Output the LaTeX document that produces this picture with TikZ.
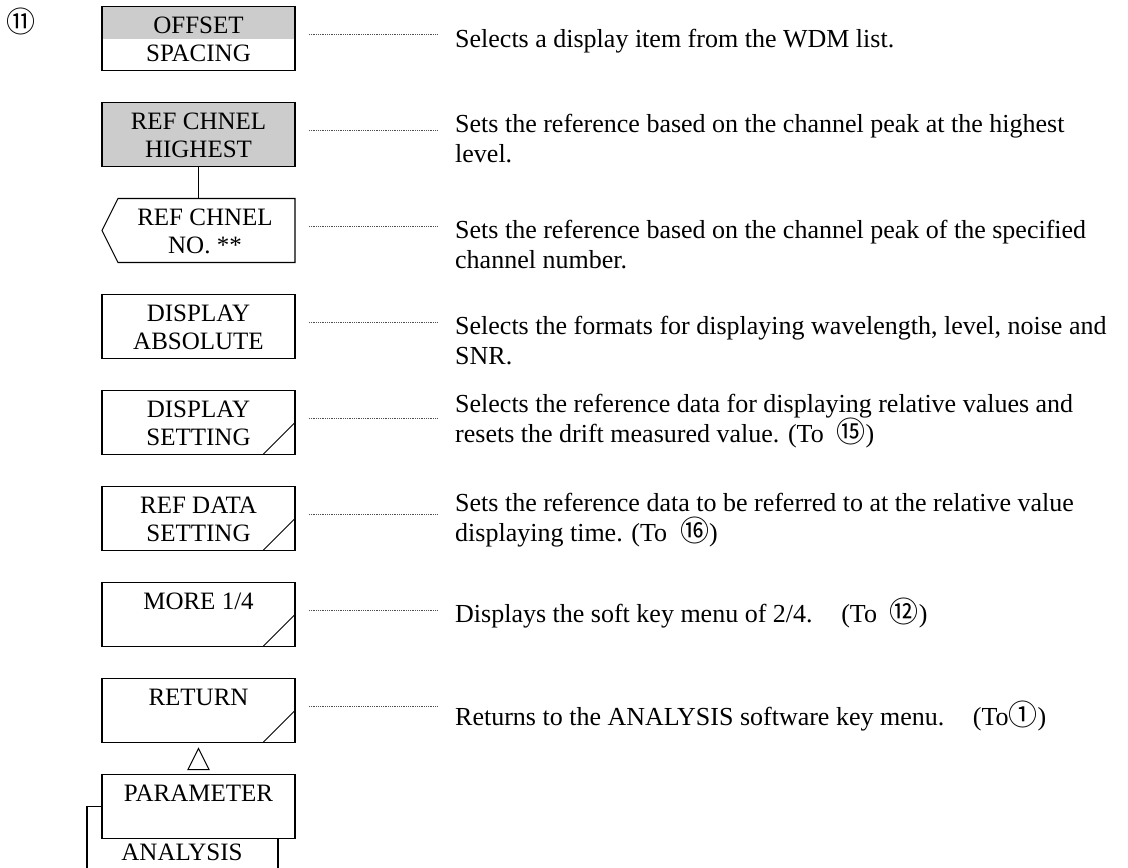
\documentclass[tikz,border=0pt]{standalone}
\usepackage{fontspec}
\setmainfont{Liberation Serif}
\newfontfamily\circfont{Noto Sans CJK JP}
\usetikzlibrary{calc}
\definecolor{keygray}{RGB}{204,204,204}
\definecolor{dotgray}{RGB}{80,80,80}
\newcommand{\circnum}[1]{\smash{\raisebox{-0.5pt}{\circfont\fontsize{29}{29}\selectfont #1}}}
\begin{document}
\begin{tikzpicture}[x=1pt,y=-1pt,
  keybox/.style={draw=black, line width=1.1pt, minimum width=193pt, minimum height=64pt, inner sep=0pt, outer sep=0pt},
  klabel/.style={font=\fontsize{25}{27.5}\selectfont, anchor=base, inner sep=0pt},
  desc/.style={font=\fontsize{26}{30}\selectfont, anchor=base west, inner sep=0pt, align=left},
  leader/.style={draw=dotgray, line width=0.8pt, dash pattern=on 0.9pt off 0.9pt},
  slashln/.style={line width=1pt},
  edge/.style={line width=1.1pt}]
\useasboundingbox (0,0) rectangle (1128,868);

% circled number
\node[font=\fontsize{29}{29}\selectfont\circfont, inner sep=0pt] (num) at (21,21) {⑪};

% row 0
\fill[keygray] (102,7) rectangle (295,39);
\node[keybox] (k0) at (198.5,38.5) {};
\node[klabel] (t0a) at (198.5,33.5) {OFFSET};
\node[klabel] (t0b) at (198.5,61) {SPACING};

% row 1
\node[keybox, fill=keygray] (k1) at (198.5,134.5) {};
\node[klabel] (t1a) at (198.5,129.5) {REF CHNEL};
\node[klabel] (t1b) at (198.5,157) {HIGHEST};

% row 2 (pointed)
\node[minimum width=177pt, minimum height=64pt, inner sep=0pt, outer sep=0pt] (k2) at (206.5,230.5) {};
\draw[edge] (k2.north west) -- (k2.north east) -- (k2.south east) -- (k2.south west) -- ($(k2.west)+(-16,0)$) -- cycle;
\node[klabel] (t2a) at (205,225.5) {REF CHNEL};
\node[klabel] (t2b) at (205,253) {NO. **};
\draw[edge] (k1.south) -- (k1.south |- k2.north);

% row 3
\node[keybox] (k3) at (198.5,326.5) {};
\node[klabel] (t3a) at (198.5,321.5) {DISPLAY};
\node[klabel] (t3b) at (198.5,349) {ABSOLUTE};

% row 4
\node[keybox] (k4) at (198.5,422.5) {};
\node[klabel] (t4a) at (198.5,417.5) {DISPLAY};
\node[klabel] (t4b) at (198.5,445) {SETTING};
\draw[slashln] ($(k4.south east)+(-32,0)$) -- ++(32,-32);

% row 5
\node[keybox] (k5) at (198.5,518.5) {};
\node[klabel] (t5a) at (198.5,513.5) {REF DATA};
\node[klabel] (t5b) at (198.5,541) {SETTING};
\draw[slashln] ($(k5.south east)+(-32,0)$) -- ++(32,-32);

% row 6
\node[keybox] (k6) at (198.5,614.5) {};
\node[klabel] (t6a) at (198.5,609.5) {MORE 1/4};
\draw[slashln] ($(k6.south east)+(-32,0)$) -- ++(32,-32);

% row 7
\node[keybox] (k7) at (198.5,710.5) {};
\node[klabel] (t7a) at (198.5,705.5) {RETURN};
\draw[slashln] ($(k7.south east)+(-32,0)$) -- ++(32,-32);

% triangle
\draw[line width=1pt, fill=white] ($(k7.south)+(0,6)$) -- ++(10.5,21) -- ++(-21,0) -- cycle;

% row 8
\node[keybox] (k8) at (198.5,806.5) {};
\node[klabel] (t8a) at (198.5,801.5) {PARAMETER};
\draw[edge] (k8.west) -- ++(-15,0) -- ++(0,64);
\draw[edge] ($(k8.south east)+(-17,0)$) -- ++(0,32);
\node[klabel] (an) at (182,860) {ANALYSIS};

% leaders
\foreach \k in {k0,k1,k2,k3,k4,k5,k6,k7}{
  \draw[leader] ([xshift=14pt,yshift=4.5pt]\k.east) -- ++(129,0);
}

% descriptions (anchor = baseline of last line)
\node[desc] (d0) at (455,47) {Selects a display item from the WDM list.};
\node[desc] (d1) at (455,162) {Sets the reference based on the channel peak at the highest\\level.};
\node[desc] (d2) at (455,268) {Sets the reference based on the channel peak of the specified\\channel number.};
\node[desc] (d3) at (455,364) {Selects the formats for displaying wavelength, level, noise and\\SNR.};
\node[desc] (d4) at (455,442) {Selects the reference data for displaying relative values and\\resets the drift measured value. (To\hspace{0.5em}\circnum{⑮})};
\node[desc] (d5) at (455,541) {Sets the reference data to be referred to at the relative value\\displaying time. (To\hspace{0.5em}\circnum{⑯})};
\node[desc] (d6) at (455,622) {Displays the soft key menu of 2/4.\hspace{1.1em}(To\hspace{0.5em}\circnum{⑫})};
\node[desc] (d7) at (455,725) {Returns to the ANALYSIS software key menu.\hspace{1.1em}(To\circnum{①})};
\end{tikzpicture}
\end{document}
